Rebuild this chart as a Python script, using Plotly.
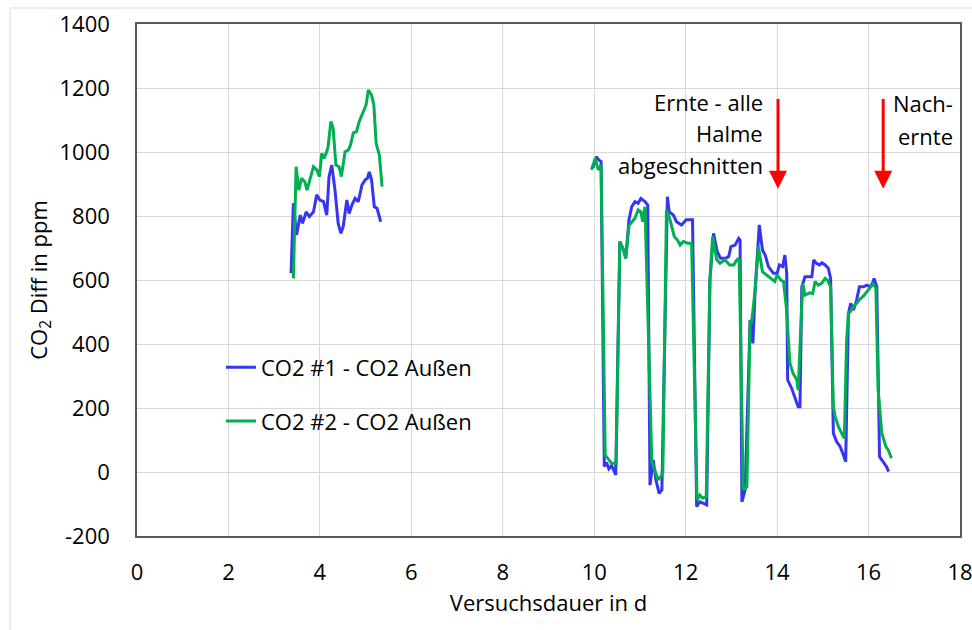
import plotly.graph_objects as go

# ---------------- data ----------------
co2_1_x_a = [3.37, 3.42, 3.49, 3.57, 3.62, 3.70, 3.77, 3.86, 3.93, 4.00, 4.08, 4.15, 4.20, 4.26, 4.33,
             4.40, 4.46, 4.51, 4.59, 4.64, 4.70, 4.77, 4.84, 4.92, 4.99, 5.04, 5.08, 5.13, 5.19, 5.25, 5.33]
co2_1_y_a = [621, 840, 741, 803, 777, 813, 798, 813, 866, 850, 845, 803, 923, 959, 881,
             777, 746, 767, 850, 808, 834, 855, 845, 897, 913, 918, 938, 913, 829, 824, 782]

co2_1_x_b = [9.97, 10.05, 10.10, 10.15, 10.22, 10.27, 10.32, 10.38, 10.43, 10.47, 10.56, 10.64, 10.69,
             10.76, 10.82, 10.89, 10.96, 11.02, 11.11, 11.17, 11.22, 11.29, 11.35, 11.42, 11.48, 11.60,
             11.64, 11.73, 11.80, 11.91, 12.01, 12.10, 12.15, 12.24, 12.31, 12.39, 12.46, 12.53, 12.61,
             12.69, 12.76, 12.87, 12.94, 12.99, 13.08, 13.16, 13.19, 13.23, 13.30, 13.41, 13.47, 13.52,
             13.58, 13.61, 13.68, 13.74, 13.81, 13.92, 14.00, 14.05, 14.12, 14.17, 14.21, 14.23, 14.32,
             14.39, 14.46, 14.50, 14.54, 14.61, 14.71, 14.76, 14.80, 14.86, 14.93, 14.98, 15.05, 15.12,
             15.17, 15.23, 15.30, 15.38, 15.45, 15.50, 15.56, 15.61, 15.67, 15.74, 15.80, 15.89, 15.96,
             16.03, 16.09, 16.12, 16.18, 16.24, 16.32, 16.39, 16.44]
co2_1_y_b = [950, 985, 975, 970, 17, 30, 10, 20, 5, -9, 720, 694, 668,
             788, 829, 845, 840, 855, 845, 834, -41, 38, -25, -67, -56, 860,
             813, 803, 782, 772, 788, 788, 788, -108, -93, -98, -103, 600, 746,
             689, 668, 668, 673, 704, 709, 730, 725, -93, -56, 475, 402, 569,
             715, 772, 694, 678, 642, 621, 621, 647, 642, 678, 621, 288, 261,
             235, 204, 204, 579, 610, 610, 610, 663, 652, 647, 654, 647, 637,
             605, 121, 95, 79, 53, 32, 496, 527, 506, 538, 579, 579, 584,
             579, 590, 605, 579, 48, 32, 17, 1]

co2_2_x_a = [3.42, 3.48, 3.54, 3.60, 3.67, 3.72, 3.78, 3.86, 3.93, 3.99, 4.04, 4.09, 4.15, 4.18, 4.24,
             4.29, 4.35, 4.42, 4.47, 4.55, 4.62, 4.67, 4.73, 4.80, 4.86, 4.93, 5.01, 5.06, 5.13, 5.18,
             5.23, 5.30, 5.36]
co2_2_y_a = [605, 954, 881, 918, 907, 881, 913, 954, 944, 923, 996, 980, 1001, 1017, 1095,
             1074, 959, 954, 923, 1001, 1006, 1022, 1060, 1064, 1095, 1121, 1147, 1194, 1178, 1147,
             1027, 991, 892]

co2_2_x_b = [9.94, 10.02, 10.09, 10.15, 10.24, 10.27, 10.38, 10.48, 10.56, 10.64, 10.69, 10.76, 10.82,
             10.89, 10.96, 11.02, 11.06, 11.11, 11.26, 11.33, 11.40, 11.50, 11.58, 11.66, 11.75, 11.82,
             11.88, 11.95, 12.05, 12.13, 12.25, 12.31, 12.37, 12.45, 12.53, 12.59, 12.68, 12.75, 12.86,
             12.96, 13.05, 13.12, 13.17, 13.26, 13.34, 13.41, 13.44, 13.52, 13.59, 13.68, 13.81, 13.95,
             14.00, 14.08, 14.14, 14.20, 14.28, 14.35, 14.43, 14.46, 14.56, 14.61, 14.71, 14.78, 14.83,
             14.90, 14.98, 15.05, 15.10, 15.17, 15.23, 15.27, 15.34, 15.42, 15.47, 15.52, 15.56, 15.60,
             15.67, 15.74, 15.81, 15.89, 15.96, 16.03, 16.10, 16.16, 16.21, 16.29, 16.38, 16.43, 16.50]
co2_2_y_b = [944, 980, 944, 959, 53, 48, 27, 27, 720, 694, 668, 770, 782,
             793, 819, 813, 782, 829, 32, 6, -25, -4, 819, 788, 736, 725,
             709, 720, 715, 715, -88, -72, -82, -77, 600, 736, 663, 652, 663,
             647, 647, 663, 668, -56, -46, 475, 465, 569, 704, 626, 610, 595,
             616, 600, 595, 517, 340, 308, 288, 256, 590, 553, 560, 558, 595,
             584, 590, 605, 600, 579, 204, 173, 142, 116, 105, 412, 496, 501,
             517, 527, 540, 550, 563, 574, 588, 574, 256, 121, 79, 69, 43]

series_names = ["CO2 #1 - CO2 Außen", "CO2 #2 - CO2 Außen"]
series_colors = ["#3535f2", "#00b050"]

x_ticks = [0, 2, 4, 6, 8, 10, 12, 14, 16, 18]
y_ticks = [-200, 0, 200, 400, 600, 800, 1000, 1200, 1400]

ann1_lines = ["Ernte - alle", "Halme", "abgeschnitten"]
ann1_y = [1156, 1059, 959]
ann2_lines = ["Nach-", "ernte"]
ann2_y = [1153, 1050]
ann_arrow_x = [14.02, 16.32]

FONT = "Open Sans"
FS = 22

fig = go.Figure()
xs = [co2_1_x_a + [None] + co2_1_x_b, co2_2_x_a + [None] + co2_2_x_b]
ys = [co2_1_y_a + [None] + co2_1_y_b, co2_2_y_a + [None] + co2_2_y_b]
for i in range(2):
    fig.add_trace(go.Scatter(
        x=xs[i], y=ys[i], mode="lines", name=series_names[i],
        legendgroup=f"g{i}", connectgaps=False,
        line=dict(color=series_colors[i], width=3),
    ))

# arrows
for ax_ in ann_arrow_x:
    fig.add_annotation(x=ax_, y=885, ax=ax_, ay=1170, xref="x", yref="y", axref="x", ayref="y",
                       text="", showarrow=True, arrowhead=2, arrowsize=1.2, arrowwidth=3,
                       arrowcolor="#ff0000")

# texts
for t, yv in zip(ann1_lines, ann1_y):
    fig.add_annotation(x=13.74, y=yv, xref="x", yref="y", text=t, showarrow=False,
                       xanchor="right", yanchor="middle", align="right",
                       font=dict(family=FONT, size=FS, color="#000000"))
for t, yv in zip(ann2_lines, ann2_y):
    fig.add_annotation(x=17.88, y=yv, xref="x", yref="y", text=t, showarrow=False,
                       xanchor="right", yanchor="middle", align="right",
                       font=dict(family=FONT, size=FS, color="#000000"))

# outer chart border
fig.add_shape(type="rect", xref="paper", yref="paper",
              x0=(10 - 137) / 823, x1=(990 - 137) / 823,
              y0=(536 - 650) / 512, y1=(536 - 8) / 512,
              line=dict(color="#d9d9d9", width=1), layer="below")

fig.update_layout(
    width=972, height=630,
    margin=dict(l=137, r=12, t=24, b=94),
    paper_bgcolor="white", plot_bgcolor="white",
    font=dict(family=FONT, size=FS, color="#000000"),
    showlegend=True,
    legend=dict(x=0.102, y=0.37, xanchor="left", yanchor="top",
                bgcolor="rgba(0,0,0,0)", font=dict(family=FONT, size=FS),
                traceorder="grouped", tracegroupgap=22, itemwidth=30),
    xaxis=dict(range=[0, 18], tickvals=x_ticks, ticktext=[str(v) for v in x_ticks],
               showgrid=True, gridcolor="#d9d9d9", gridwidth=1, automargin=False,
               ticklabeloverflow="allow",
               zeroline=False, showline=True, linecolor="#595959", linewidth=1.5, mirror=True,
               ticks="", ticklabelstandoff=16,
               title=dict(text="Versuchsdauer in d", standoff=10, font=dict(family=FONT, size=FS))),
    yaxis=dict(range=[-200, 1400], tickvals=y_ticks, ticktext=[str(v) for v in y_ticks],
               showgrid=True, gridcolor="#d9d9d9", gridwidth=1, automargin=False,
               ticklabeloverflow="allow",
               zeroline=False, showline=True, linecolor="#595959", linewidth=1.5, mirror=True,
               ticks="", ticklabelstandoff=21,
               title=dict(text="CO<sub>2</sub> Diff in ppm", standoff=6, font=dict(family=FONT, size=FS))),
)

fig.write_html("out.html")
